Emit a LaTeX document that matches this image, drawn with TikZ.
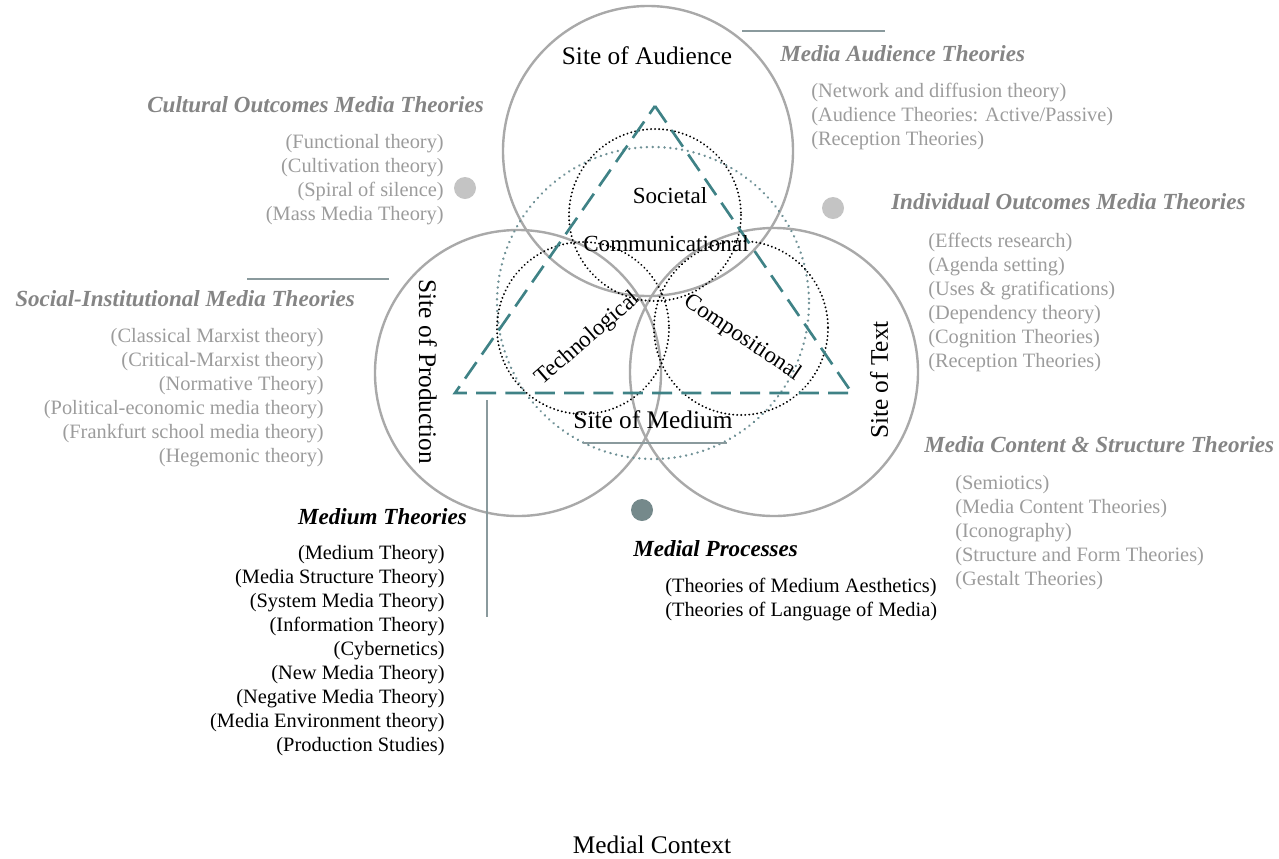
\documentclass[tikz,border=0pt]{standalone}
\usepackage{fontspec}
\setmainfont{Liberation Serif}
\definecolor{ringgray}{HTML}{A9A9A9}
\definecolor{listgray}{HTML}{9C9C9C}
\definecolor{headgray}{HTML}{858585}
\definecolor{triteal}{HTML}{3F8286}
\definecolor{dotteal}{HTML}{6F9196}
\definecolor{rulecol}{HTML}{8A9A9D}
\definecolor{markgray}{HTML}{C4C4C4}
\definecolor{markteal}{HTML}{75898B}
\begin{document}
\begin{tikzpicture}[x=0.75pt,y=-0.75pt,
  ring/.style={draw=ringgray,line width=1.8pt},
  zone/.style={draw=black,line width=1.6pt,dash pattern=on 0.01pt off 3pt,line cap=round},
  halo/.style={draw=dotteal,line width=2pt,dash pattern=on 0.01pt off 4.4pt,line cap=round},
  tri/.style={draw=triteal,line width=2pt,dash pattern=on 15pt off 7pt},
  rule/.style={draw=rulecol,line width=0.9pt},
  sitelabel/.style={inner sep=0pt,font=\fontsize{19}{22}\selectfont},
  zonelabel/.style={inner sep=0pt,font=\fontsize{17.3}{20}\selectfont},
  heading/.style={inner sep=0pt,text=headgray,font=\fontsize{17.3}{20}\selectfont\bfseries\itshape},
  blackheading/.style={heading,text=black},
  listtext/.style={inner sep=0pt,text=listgray,font=\fontsize{15.3}{18}\selectfont},
  blacklist/.style={listtext,text=black},
  bullet/.style={circle,inner sep=0pt,minimum size=16.5pt}
]
\useasboundingbox (0,0) rectangle (1279,858);

% the three sites
\draw[ring] (648,151) circle [radius=145];
\draw[ring] (518,373) circle [radius=143];
\draw[ring] (774,372) circle [radius=144];

% medium halo
\draw[halo] (653,303) circle [radius=156];

% inner zones
\draw[zone] (655,215) circle [radius=86];
\draw[zone] (583,328) circle [radius=86];
\draw[zone] (741,328) circle [radius=87];

% dashed triangle
\coordinate (apex) at (655,106);
\coordinate (lv) at (455,393);
\coordinate (rv) at (852,393);
\draw[tri] (apex) -- (rv) -- (lv) -- cycle;

% site labels
\node[sitelabel] (saud) at (647,56) {Site of Audience};
\node[sitelabel,rotate=-90] (sprod) at (428,372) {Site of Production};
\node[sitelabel,rotate=90] (stext) at (879,380) {Site of Text};
\node[sitelabel] (smed) at (653,420) {Site of Medium};
\node[sitelabel] (ctx) at (652,845) {Medial Context};

% zone labels
\node[zonelabel] (soc) at (670,196) {Societal};
\node[zonelabel] (comm) at (666,244) {Communicational};
\node[zonelabel,rotate=41] (tech) at (588,339) {Technological};
\node[zonelabel,rotate=-34] (comp) at (742,338) {Compositional};

% rules
\coordinate (r1a) at (742,31); \coordinate (r1b) at (885,31);
\coordinate (r2a) at (247,279); \coordinate (r2b) at (389,279);
\coordinate (r3a) at (487,400); \coordinate (r3b) at (487,617);
\coordinate (r4a) at (583,443); \coordinate (r4b) at (727,443);
\draw[rule] (r1a) -- (r1b);
\draw[rule] (r2a) -- (r2b);
\draw[rule] (r3a) -- (r3b);
\draw[rule] (r4a) -- (r4b);

% bullets
\node[bullet,fill=markgray] (m1) at (465,188) {};
\node[bullet,fill=markgray] (m2) at (833,208) {};
\node[bullet,fill=markteal] (m3) at (642,510) {};

% theory groups
\node[heading,anchor=west] (hA) at (780,54) {Media Audience Theories};
\node[listtext,anchor=north west,align=left] (lA) at (811,83)
  {(Network and diffusion theory)\\(Audience Theories: Active/Passive)\\(Reception Theories)};

\node[heading,anchor=east] (hC) at (484,105) {Cultural Outcomes Media Theories};
\node[listtext,anchor=north east,align=right] (lC) at (444,134.5)
  {(Functional theory)\\(Cultivation theory)\\(Spiral of silence)\\(Mass Media Theory)};

\node[heading,anchor=west] (hI) at (891,202) {Individual Outcomes Media Theories};
\node[listtext,anchor=north west,align=left] (lI) at (928,233)
  {(Effects research)\\(Agenda setting)\\(Uses \& gratifications)\\(Dependency theory)\\(Cognition Theories)\\(Reception Theories)};

\node[heading,anchor=west] (hS) at (15,299) {Social-Institutional Media Theories};
\node[listtext,anchor=north east,align=right] (lS) at (324,328.5)
  {(Classical Marxist theory)\\(Critical-Marxist theory)\\(Normative Theory)\\(Political-economic media theory)\\(Frankfurt school media theory)\\(Hegemonic theory)};

\node[heading,anchor=west] (hM) at (924,445) {Media Content \& Structure Theories};
\node[listtext,anchor=north west,align=left] (lM) at (955,475.5)
  {(Semiotics)\\(Media Content Theories)\\(Iconography)\\(Structure and Form Theories)\\(Gestalt Theories)};

\node[blackheading,anchor=east] (hT) at (467,517) {Medium Theories};
\node[blacklist,anchor=north east,align=right] (lT) at (445,545.5)
  {(Medium Theory)\\(Media Structure Theory)\\(System Media Theory)\\(Information Theory)\\(Cybernetics)\\(New Media Theory)\\(Negative Media Theory)\\(Media Environment theory)\\(Production Studies)};

\node[blackheading,anchor=west] (hP) at (633,549) {Medial Processes};
\node[blacklist,anchor=north west,align=left] (lP) at (665,577.5)
  {(Theories of Medium Aesthetics)\\(Theories of Language of Media)};
\end{tikzpicture}
\end{document}
